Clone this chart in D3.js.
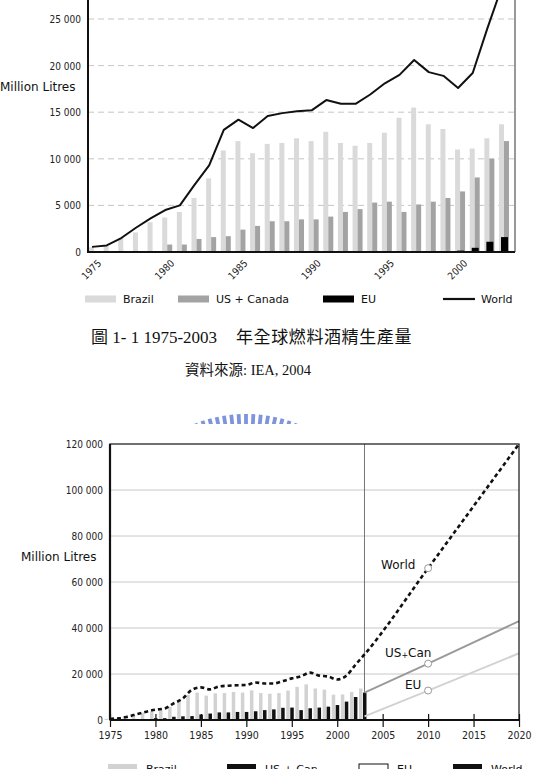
<!DOCTYPE html>
<html>
<head>
<meta charset="utf-8">
<script src="https://cdn.jsdelivr.net/npm/d3@7"></script>
<style>
  html, body { margin: 0; padding: 0; background: #fff; overflow: hidden; }
  svg { display: block; }
  .num { font-family: "DejaVu Sans Condensed", "DejaVu Sans", sans-serif; font-size: 10px; fill: #222; }
  .lbl { font-family: "DejaVu Sans", sans-serif; font-size: 11px; fill: #111; }
  .cap { font-family: "Liberation Serif", "Noto Sans CJK TC", serif; fill: #111; }
</style>
</head>
<body>
<div id="chart"></div>
<script>
// Top chart: fuel ethanol production 1975-2003 (million litres)
const years = [1975, 1976, 1977, 1978, 1979, 1980, 1981, 1982, 1983, 1984,
  1985, 1986, 1987, 1988, 1989, 1990, 1991, 1992, 1993, 1994,
  1995, 1996, 1997, 1998, 1999, 2000, 2001, 2002, 2003];
const brazil = [500, 650, 1500, 2100, 3200, 3700, 4300, 5800, 7900, 10900,
  11900, 10600, 11600, 11700, 12200, 11900, 12900, 11700, 11400, 11700,
  12800, 14400, 15500, 13700, 13200, 11000, 11100, 12200, 13700];
const usCanada = [0, 50, 80, 100, 100, 800, 800, 1400, 1600, 1700,
  2400, 2800, 3300, 3300, 3500, 3500, 3800, 4300, 4600, 5300,
  5400, 4300, 5100, 5400, 5800, 6500, 8000, 10000, 11900];
const eu = [0, 0, 0, 0, 0, 0, 0, 0, 0, 0,
  0, 0, 50, 50, 50, 50, 60, 60, 80, 80,
  90, 100, 100, 100, 100, 150, 450, 1100, 1600];
const world = [550, 700, 1500, 2600, 3600, 4500, 5000, 7200, 9300, 13100,
  14200, 13300, 14600, 14900, 15100, 15200, 16300, 15900, 15900, 16900,
  18100, 19000, 20600, 19300, 18900, 17600, 19200, 24000, 28500];
const topTicks = [0, 5000, 10000, 15000, 20000, 25000];
const topYearLabels = [1975, 1980, 1985, 1990, 1995, 2000];

// Bottom chart: projections to 2020
const projYears = [2003, 2010, 2020];
const worldProj = [28500, 66000, 120000];
const usCanProj = [11900, 24500, 43000];
const euProj = [1600, 12800, 29000];
const bottomTicks = [0, 20000, 40000, 60000, 80000, 100000, 120000];
const bottomYearLabels = [1975, 1980, 1985, 1990, 1995, 2000, 2005, 2010, 2015, 2020];

(() => {
  'use strict';

  const W = 536;
  const H = 769;
  const fmt = d3.formatLocale({ decimal: '.', thousands: ' ', grouping: [3], currency: ['', ''] }).format(',');

  const rows = years.map((year, i) => ({
    year, brazil: brazil[i], us: usCanada[i], eu: eu[i], world: world[i],
  }));

  const svg = d3.select('#chart').append('svg')
    .attr('width', W)
    .attr('height', H)
    .attr('viewBox', `0 0 ${W} ${H}`);

  // ---------- top chart ----------
  const t = { left: 88, right: 515, bottom: 252 };
  const x1 = d3.scaleLinear().domain([1975, 2003]).range([92, 502]);
  const y1 = d3.scaleLinear().domain([0, 25000]).range([t.bottom, 19]);
  const tTop = y1(30000);

  const top = svg.append('g');

  top.append('g')
    .selectAll('line')
    .data(topTicks.filter(d => d > 0))
    .join('line')
    .attr('x1', t.left).attr('x2', t.right)
    .attr('y1', d => y1(d)).attr('y2', d => y1(d))
    .attr('stroke', '#b8b8b8')
    .attr('stroke-width', 0.8)
    .attr('stroke-dasharray', '6,4');

  top.append('g')
    .attr('transform', `translate(${t.left},0)`)
    .call(d3.axisLeft(y1).tickValues(topTicks).tickFormat(fmt).tickSize(0).tickPadding(7))
    .call(g => g.select('.domain').remove())
    .selectAll('text').attr('class', 'num').attr('dy', '0.35em');

  const bars = top.append('g');
  bars.selectAll('rect.br')
    .data(rows).join('rect')
    .attr('x', d => x1(d.year) - 3).attr('width', 5)
    .attr('y', d => y1(d.brazil)).attr('height', d => y1(0) - y1(d.brazil))
    .attr('fill', '#dadada');
  bars.selectAll('rect.us')
    .data(rows).join('rect')
    .attr('x', d => x1(d.year) + 2).attr('width', 5)
    .attr('y', d => y1(d.us)).attr('height', d => y1(0) - y1(d.us))
    .attr('fill', '#a3a3a3');
  bars.selectAll('rect.eu')
    .data(rows).join('rect')
    .attr('x', d => x1(d.year) - 1).attr('width', 7)
    .attr('y', d => y1(d.eu)).attr('height', d => y1(0) - y1(d.eu))
    .attr('fill', '#000');

  top.append('path')
    .datum(rows)
    .attr('fill', 'none')
    .attr('stroke', '#111')
    .attr('stroke-width', 2)
    .attr('stroke-linejoin', 'round')
    .attr('d', d3.line().x(d => x1(d.year)).y(d => y1(d.world)));

  // frame
  top.append('line').attr('x1', t.left).attr('x2', t.left).attr('y1', tTop).attr('y2', t.bottom + 1)
    .attr('stroke', '#111').attr('stroke-width', 2);
  top.append('line').attr('x1', t.left).attr('x2', t.right).attr('y1', t.bottom).attr('y2', t.bottom)
    .attr('stroke', '#111').attr('stroke-width', 2);
  top.append('line').attr('x1', t.right).attr('x2', t.right).attr('y1', tTop).attr('y2', t.bottom)
    .attr('stroke', '#333').attr('stroke-width', 1);

  top.selectAll('text.yr')
    .data(topYearLabels).join('text')
    .attr('class', 'num')
    .attr('text-anchor', 'end')
    .attr('transform', d => `translate(${x1(d) + 5},${t.bottom + 7}) rotate(-45)`)
    .attr('dy', '0.7em')
    .text(d => d);

  top.append('text').attr('class', 'lbl').attr('x', 0).attr('y', 91)
    .style('font-size', '12px').text('Million Litres');

  const topLegend = [
    { label: 'Brazil', x: 85, color: '#dadada', kind: 'rect' },
    { label: 'US + Canada', x: 178, color: '#a3a3a3', kind: 'rect' },
    { label: 'EU', x: 323, color: '#000', kind: 'rect' },
    { label: 'World', x: 443, color: '#111', kind: 'line' },
  ];
  const tl = top.append('g').selectAll('g').data(topLegend).join('g')
    .attr('transform', d => `translate(${d.x},299)`);
  tl.filter(d => d.kind === 'rect').append('rect')
    .attr('x', 0).attr('y', -3.5).attr('width', 31).attr('height', 7).attr('fill', d => d.color);
  tl.filter(d => d.kind === 'line').append('line')
    .attr('x1', 0).attr('x2', 32).attr('y1', 0).attr('y2', 0)
    .attr('stroke', d => d.color).attr('stroke-width', 2.2);
  tl.append('text').attr('class', 'lbl').attr('x', 38).attr('y', 4).text(d => d.label);

  // captions
  const cap = svg.append('text').attr('class', 'cap').attr('y', 343).style('font-size', '17px');
  cap.append('tspan').attr('x', 91).text('圖 1- 1 1975-2003');
  cap.append('tspan').attr('x', 236).style('letter-spacing', '0.6px').text('年全球燃料酒精生產量');
  svg.append('text').attr('class', 'cap').attr('x', 185).attr('y', 375)
    .style('font-size', '14.5px')
    .text('資料來源: IEA, 2004');

  // watermark seal (decorative)
  const defs = svg.append('defs');
  defs.append('clipPath').attr('id', 'sealClip')
    .append('rect').attr('x', 150).attr('y', 400).attr('width', 200).attr('height', 24);
  const seal = svg.append('g').attr('clip-path', 'url(#sealClip)');
  const cx = 246, cy = 555, R = 141;
  seal.selectAll('line')
    .data(d3.range(-24, 25, 3))
    .join('line')
    .attr('x1', a => cx + R * Math.sin(a * Math.PI / 180))
    .attr('y1', a => cy - R * Math.cos(a * Math.PI / 180))
    .attr('x2', a => cx + (R - 10) * Math.sin(a * Math.PI / 180))
    .attr('y2', a => cy - (R - 10) * Math.cos(a * Math.PI / 180))
    .attr('stroke', '#8094dc')
    .attr('stroke-width', 3.8);

  // ---------- bottom chart ----------
  const b = { left: 110, right: 519, top: 444, bottom: 720 };
  const x2 = d3.scaleLinear().domain([1975, 2020]).range([b.left, b.right]);
  const y2 = d3.scaleLinear().domain([0, 120000]).range([b.bottom, b.top]);

  const bot = svg.append('g');

  bot.append('g')
    .selectAll('line')
    .data(bottomTicks.filter(d => d > 0 && d < 120000))
    .join('line')
    .attr('x1', b.left).attr('x2', b.right)
    .attr('y1', d => y2(d)).attr('y2', d => y2(d))
    .attr('stroke', '#c8c8c8')
    .attr('stroke-width', 1);

  bot.append('g')
    .attr('transform', `translate(${b.left},0)`)
    .call(d3.axisLeft(y2).tickValues(bottomTicks).tickFormat(fmt).tickSize(0).tickPadding(7))
    .call(g => g.select('.domain').remove())
    .selectAll('text').attr('class', 'num').attr('dy', '0.35em');

  bot.append('text').attr('class', 'lbl').attr('x', 21).attr('y', 561)
    .style('font-size', '12px').text('Million Litres');

  bot.append('line')
    .attr('x1', x2(2003)).attr('x2', x2(2003)).attr('y1', b.top).attr('y2', b.bottom)
    .attr('stroke', '#777').attr('stroke-width', 1);

  const bb = bot.append('g');
  bb.selectAll('rect.br')
    .data(rows).join('rect')
    .attr('x', d => x2(d.year) - 5.5).attr('width', 3.5)
    .attr('y', d => y2(d.brazil)).attr('height', d => y2(0) - y2(d.brazil))
    .attr('fill', '#d2d2d2');
  bb.selectAll('rect.us')
    .data(rows).join('rect')
    .attr('x', d => x2(d.year) - 1.5).attr('width', 3.5)
    .attr('y', d => y2(d.us)).attr('height', d => y2(0) - y2(d.us))
    .attr('fill', '#111');

  const proj = projYears.map((year, i) => ({ year, world: worldProj[i], us: usCanProj[i], eu: euProj[i] }));

  bot.append('path').datum(proj)
    .attr('fill', 'none').attr('stroke', '#9a9a9a').attr('stroke-width', 2)
    .attr('d', d3.line().x(d => x2(d.year)).y(d => y2(d.us)));
  bot.append('path').datum(proj)
    .attr('fill', 'none').attr('stroke', '#d2d2d2').attr('stroke-width', 2)
    .attr('d', d3.line().x(d => x2(d.year)).y(d => y2(d.eu)));

  const worldAll = rows.map(d => ({ year: d.year, v: d.world }))
    .concat(proj.slice(1).map(d => ({ year: d.year, v: d.world })));
  bot.append('path').datum(worldAll)
    .attr('fill', 'none').attr('stroke', '#111').attr('stroke-width', 2.6)
    .attr('stroke-dasharray', '4,3')
    .attr('d', d3.line().curve(d3.curveMonotoneX).x(d => x2(d.year)).y(d => y2(d.v)));

  const mark = proj.filter(d => d.year === 2010);
  ['world', 'us', 'eu'].forEach(k => {
    bot.selectAll(`circle.${k}`).data(mark).join('circle')
      .attr('cx', d => x2(d.year)).attr('cy', d => y2(d[k])).attr('r', 3.5)
      .attr('fill', '#fff').attr('stroke', '#999').attr('stroke-width', 1);
  });

  bot.append('text').attr('class', 'lbl').attr('x', 381).attr('y', 569).style('font-size', '12px').text('World');
  const usLbl = bot.append('text').attr('class', 'lbl').attr('x', 385).attr('y', 657).style('font-size', '12px');
  usLbl.append('tspan').text('US');
  usLbl.append('tspan').style('font-size', '8px').attr('dy', 1).text('+');
  usLbl.append('tspan').attr('dy', -1).text('Can');
  bot.append('text').attr('class', 'lbl').attr('x', 405).attr('y', 689).style('font-size', '12px').text('EU');

  // frame
  bot.append('rect')
    .attr('x', b.left).attr('y', b.top).attr('width', b.right - b.left).attr('height', b.bottom - b.top)
    .attr('fill', 'none').attr('stroke', '#111').attr('stroke-width', 1.2);
  bot.append('line').attr('x1', b.left).attr('x2', b.left).attr('y1', b.top).attr('y2', b.bottom)
    .attr('stroke', '#111').attr('stroke-width', 2.2);
  bot.append('line').attr('x1', b.left).attr('x2', b.right).attr('y1', b.bottom).attr('y2', b.bottom)
    .attr('stroke', '#111').attr('stroke-width', 2.2);

  bot.append('g')
    .attr('transform', `translate(0,${b.bottom})`)
    .call(d3.axisBottom(x2).tickValues(bottomYearLabels).tickFormat(d3.format('d')).tickSize(7).tickPadding(5))
    .call(g => g.select('.domain').remove())
    .call(g => g.selectAll('line').attr('stroke', '#111').attr('stroke-width', 1.2).attr('y1', -6))
    .selectAll('text').attr('class', 'num').style('font-size', '10.5px');

  const botLegend = [
    { label: 'Brazil', x: 108, fill: '#d2d2d2', stroke: 'none' },
    { label: 'US + Can', x: 227, fill: '#111', stroke: 'none' },
    { label: 'EU', x: 359, fill: '#fff', stroke: '#111' },
    { label: 'World', x: 453, fill: '#111', stroke: 'none' },
  ];
  const bl = bot.append('g').selectAll('g').data(botLegend).join('g')
    .attr('transform', d => `translate(${d.x},764)`);
  bl.append('rect').attr('x', 0).attr('y', 0).attr('width', 29).attr('height', 12)
    .attr('fill', d => d.fill).attr('stroke', d => d.stroke);
  bl.append('text').attr('class', 'lbl').attr('x', 38).attr('y', 9).text(d => d.label);
})();
</script>
</body>
</html>
